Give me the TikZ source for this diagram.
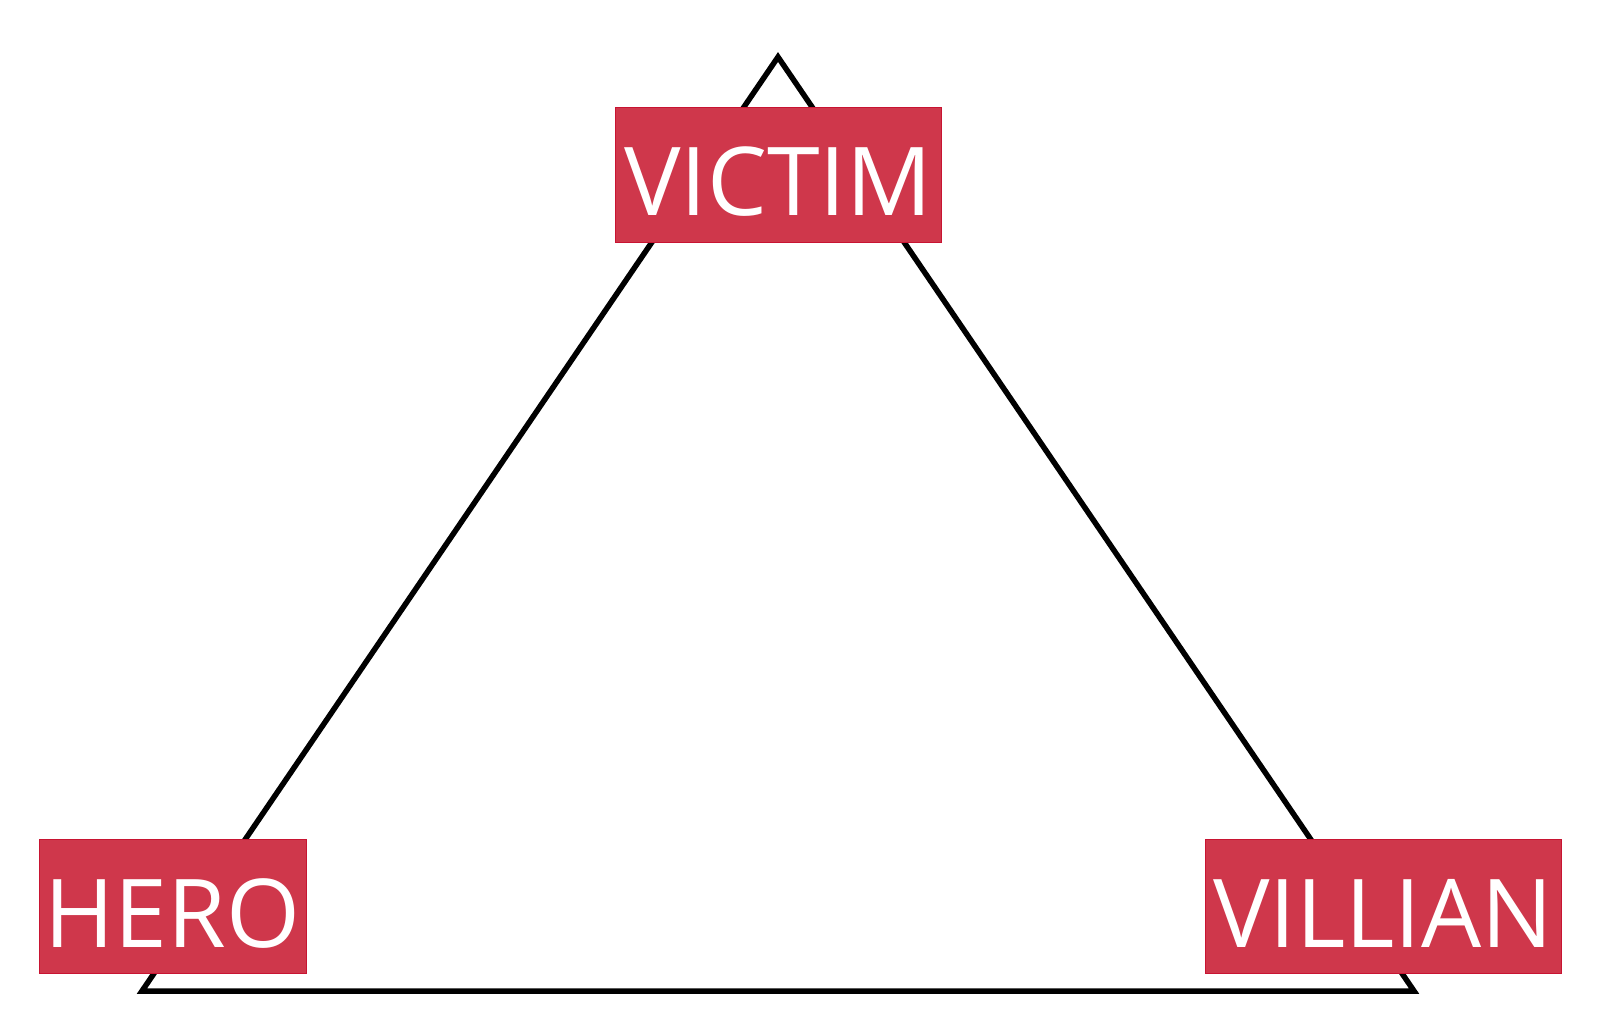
\documentclass[tikz,border=0pt]{standalone}
\usepackage{fontspec}
\setmainfont{Open Sans}
\definecolor{boxred}{RGB}{207,55,75}
\definecolor{boxedge}{RGB}{200,20,50}
\begin{document}
\begin{tikzpicture}[x=1pt,y=-1pt]
\useasboundingbox (0,0) rectangle (1600,1030);
\tikzset{
  rolebox/.style={rectangle, fill=boxred, draw=boxedge, line width=0.8pt, inner sep=0pt,
    text=white, font=\fontsize{95}{95}\selectfont, text height=82pt, text depth=0pt},
  triline/.style={draw=black, line width=5.5pt, miter limit=10}
}
\coordinate (apex) at (778,57);
\coordinate (bl) at (142,991);
\coordinate (br) at (1414,991);
\draw[triline] (apex) -- (br) -- (bl) -- cycle;
\node[rolebox, minimum width=326pt, minimum height=135pt] (victim) at (778,174.5) {VICTIM};
\node[rolebox, minimum width=267pt, minimum height=134pt] (hero) at (172.5,906) {HERO};
\node[rolebox, minimum width=356pt, minimum height=134pt] (villian) at (1383,906) {VILLIAN};
\end{tikzpicture}
\end{document}
